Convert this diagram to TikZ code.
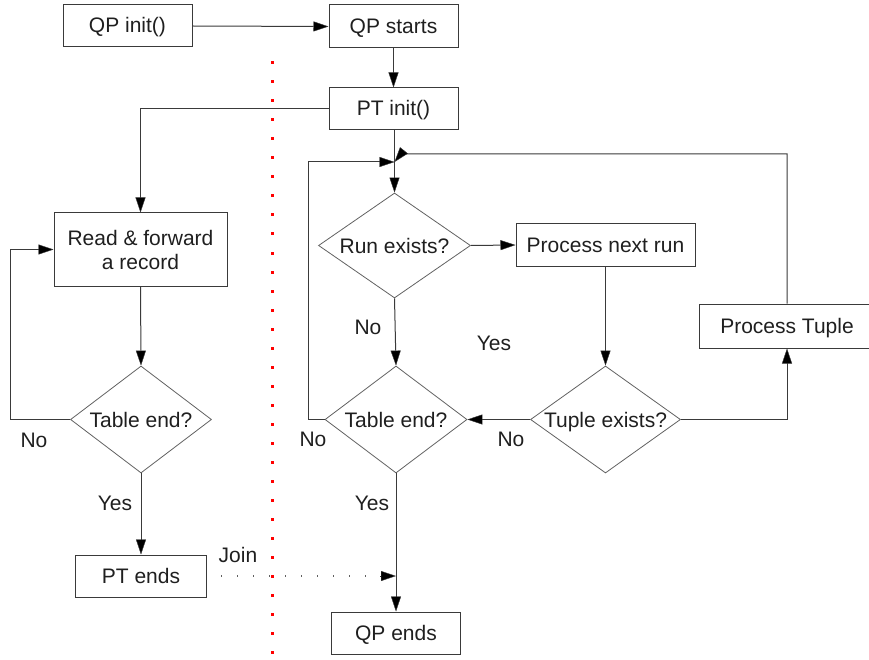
\documentclass[tikz,border=0pt]{standalone}
\usepackage{fontspec}
\setmainfont{Liberation Sans}
\usetikzlibrary{shapes.geometric,arrows.meta}

\definecolor{linegray}{HTML}{3A3A3A}
\definecolor{joingray}{HTML}{606060}

% text of a decision, kept out of the diamond's size computation
\newcommand{\dtext}[1]{\makebox[0pt]{\smash{\raisebox{-0.36em}{#1}}}}

\tikzset{
  every node/.style={font=\fontsize{21}{24}\selectfont, text=black!88},
  flowbox/.style={draw=linegray, line width=1pt, rectangle, inner sep=0pt, align=center,
                  text height=14pt, text depth=0pt},
  twoline/.style={draw=linegray, line width=1pt, rectangle, inner sep=0pt, align=center},
  decision/.style={draw=linegray!80, line width=0.8pt, diamond, inner sep=0pt},
  conn/.style={draw=linegray, line width=1pt,
               -{Triangle[length=15pt,width=10pt,fill=black,line width=0.4pt]}},
  plainconn/.style={draw=linegray, line width=1pt},
  joinline/.style={draw=joingray, line width=1.2pt, dash pattern=on 1.2pt off 14.8pt},
  lbl/.style={inner sep=0pt}
}

\begin{document}
\begin{tikzpicture}[x=1pt,y=-1pt]
  \useasboundingbox (0,0) rectangle (869,660);

  % red separator between the two threads
  \foreach \i in {0,...,31}
    \fill[red] (270.5,{61.5+19*\i}) rectangle ++(3,3);

  % boxes
  \node[flowbox, minimum width=129pt, minimum height=42pt] (qpinit)  at (127.5,26)  {QP init()};
  \node[flowbox, minimum width=129pt, minimum height=43pt] (qpstart) at (393.5,26.5) {QP starts};
  \node[flowbox, minimum width=129pt, minimum height=42pt] (ptinit)  at (393.5,109) {PT init()};
  \node[twoline, minimum width=173pt, minimum height=73pt] (read)    at (140.5,249.5) {Read \& forward\\a record};
  \node[flowbox, minimum width=131pt, minimum height=42pt] (ptends)  at (141,576)   {PT ends};
  \node[flowbox, minimum width=129pt, minimum height=42pt] (qpends)  at (396,633)   {QP ends};
  \node[flowbox, minimum width=179pt, minimum height=42pt] (nextrun) at (605.5,245) {Process next run};
  \node[flowbox, minimum width=176pt, minimum height=44pt] (tuple)   at (787,326)   {Process Tuple};

  % decisions
  \node[decision, minimum width=141pt, minimum height=107pt] (tendA) at (141,419.5)   {\dtext{Table end?}};
  \node[decision, minimum width=152pt, minimum height=105pt] (runex) at (394.5,245.5) {\dtext{Run exists?}};
  \node[decision, minimum width=142pt, minimum height=107pt] (tendB) at (396,419.5)   {\dtext{Table end?}};
  \node[decision, minimum width=150pt, minimum height=107pt] (tupex) at (605.5,419.5) {\dtext{Tuple exists?}};

  % merge point above the run test, end of the join
  \coordinate (merge) at (394.5,162);
  \coordinate (joinend) at (396,576);
  \coordinate (joinhead) at (380,576);

  % main thread
  \draw[conn] (qpinit.east) -- (qpstart.west);
  \draw[conn] (qpstart.south) -- (qpstart.south |- ptinit.north);
  \draw[plainconn] (ptinit.south -| merge) -- (merge);
  \draw[conn] (merge) -- (runex.north);
  \draw[conn] (runex.east) -- (nextrun.west);
  \draw[conn] (nextrun.south) -- (tupex.north);
  \draw[conn] (tupex.west) -- (tendB.east);
  \draw[conn] (tupex.east) -| (tuple.south);
  \draw[conn] (tuple.north) |- (401,154) -- (merge);
  \draw[conn] (tendB.west) -- ++(-16,0) |- (merge);
  \draw[conn] (runex.south) -- (tendB.north);
  \draw[conn] (tendB.south) -- (qpends.north);

  % partition thread
  \draw[conn] (ptinit.west) -| (read.north);
  \draw[conn] (read.south) -- (tendA.north);
  \draw[conn] (tendA.west) -- (10,419.5) |- (read.west);
  \draw[conn] (tendA.south) -- (ptends.north);

  % join of the two threads
  \draw[joinline] (ptends.east) ++(14,0) -- (joinhead);
  \draw[conn] (joinhead) -- (joinend);

  % branch labels
  \node[lbl] (noA)   at (34,440)  {No};
  \node[lbl] (yesA)  at (115,503) {Yes};
  \node[lbl] (join)  at (238,555) {Join};
  \node[lbl] (noR)   at (368,327) {No};
  \node[lbl] (yesR)  at (494,343) {Yes};
  \node[lbl] (noB)   at (313,439) {No};
  \node[lbl] (yesB)  at (372,503) {Yes};
  \node[lbl] (noT)   at (511,439) {No};
\end{tikzpicture}
\end{document}
